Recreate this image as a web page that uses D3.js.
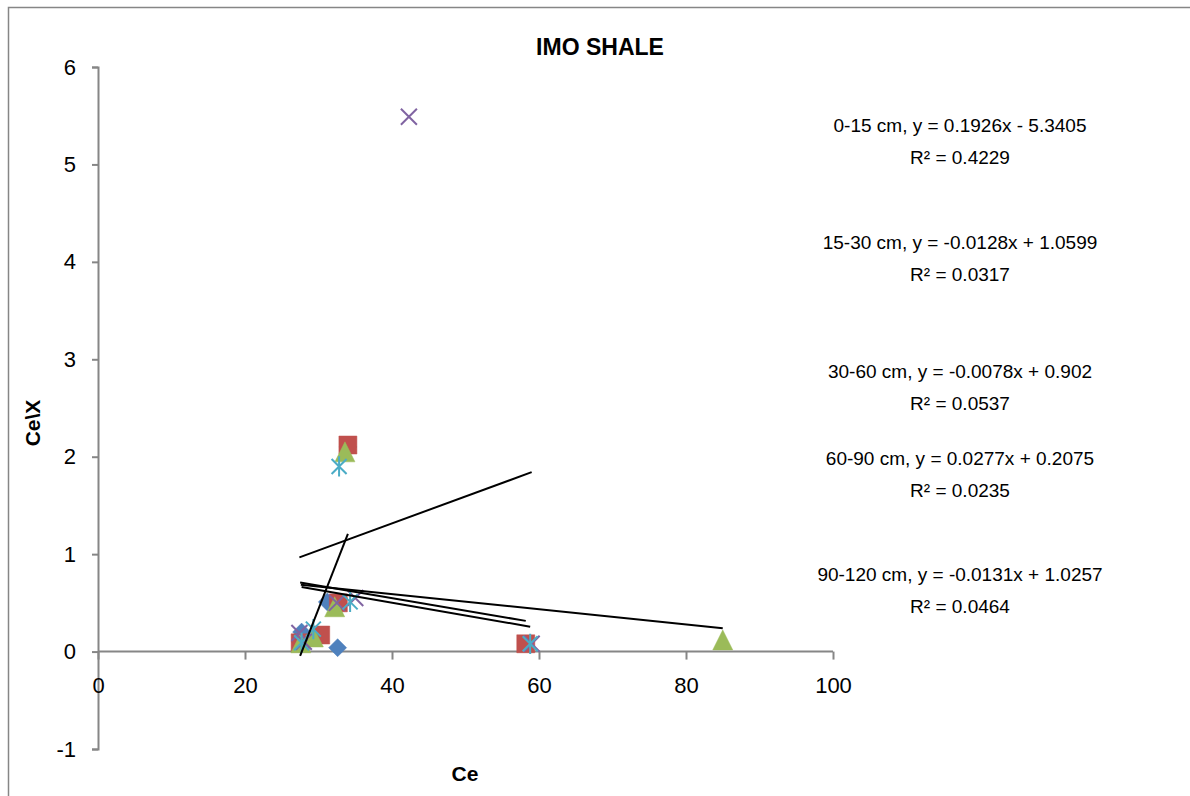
<!DOCTYPE html>
<html lang="en">
<head>
    <meta charset="UTF-8">
    <script src="https://cdnjs.cloudflare.com/ajax/libs/d3/7.9.0/d3.min.js"></script>
    <title>IMO SHALE</title>
    <style>
        body {
            margin: 0;
            background-color: white;
            font-family: "Liberation Sans", Arial, sans-serif;
        }
        svg {
            display: block;
        }
    </style>
</head>
<body>
    <div id="chart"></div>
    <script>
        const width = 1190;
        const height = 796;

        // series (depths) and their points
        const seriesNames = ["0-15 cm", "15-30 cm", "30-60 cm", "60-90 cm", "90-120 cm"];
        const ce_0_15 = [27.5, 27.7, 31.2, 32.6, 34.0];
        const cex_0_15 = [0.10, 0.20, 0.51, 0.04, 2.10];
        const ce_15_30 = [27.5, 30.3, 32.7, 34.0, 58.2];
        const cex_15_30 = [0.09, 0.17, 0.50, 2.12, 0.08];
        const ce_30_60 = [27.6, 29.3, 32.2, 33.6, 85.0];
        const cex_30_60 = [0.09, 0.15, 0.46, 2.05, 0.12];
        const ce_60_90 = [27.4, 28.0, 32.5, 35.0, 42.3, 59.0];
        const cex_60_90 = [0.19, 0.10, 0.50, 0.55, 5.49, 0.08];
        const ce_90_120 = [27.7, 29.3, 32.8, 34.3, 58.8];
        const cex_90_120 = [0.09, 0.23, 1.90, 0.51, 0.08];

        // linear trendlines shown on the chart
        const slopes = [0.1926, -0.0128, -0.0078, 0.0277, -0.0131];
        const intercepts = [-5.3405, 1.0599, 0.902, 0.2075, 1.0257];
        const r2 = ["0.4229", "0.0317", "0.0537", "0.0235", "0.0464"];

        const xTicks = [0, 20, 40, 60, 80, 100];
        const yTicks = [-1, 0, 1, 2, 3, 4, 5, 6];

        const colors = ["#4F81BD", "#C0504D", "#9BBB59", "#8064A2", "#4BACC6"];
        const shapes = ["diamond", "square", "triangle", "x", "star"];
        const labelY = [132, 249, 378, 465, 581]; // label layout, px

        const ceAll = [ce_0_15, ce_15_30, ce_30_60, ce_60_90, ce_90_120];
        const cexAll = [cex_0_15, cex_15_30, cex_30_60, cex_60_90, cex_90_120];
        const series = seriesNames.map((name, i) => ({
            name, i,
            points: ceAll[i].map((x, j) => ({ x, y: cexAll[i][j] }))
        }));

        const svg = d3.select("#chart").append("svg")
            .attr("width", width)
            .attr("height", height);

        // chart border (runs off the right and bottom edge)
        svg.append("path")
            .attr("d", `M8.5,${height + 5}V7.5H${width + 5}`)
            .attr("fill", "none")
            .attr("stroke", "#868686")
            .attr("stroke-width", 1.5);

        const x = d3.scaleLinear().domain([0, 100]).range([98, 833]);
        const y = d3.scaleLinear().domain([-1, 6]).range([749, 67]);

        // y axis
        const yAxis = svg.append("g")
            .attr("transform", `translate(${x(0)},0)`)
            .call(d3.axisLeft(y).tickValues(yTicks).tickSize(6).tickPadding(16)
                .tickFormat(d => d < 0 ? "-" + Math.abs(d) : d));
        // x axis crossing at y = 0
        const xAxis = svg.append("g")
            .attr("transform", `translate(0,${y(0)})`)
            .call(d3.axisBottom(x).tickValues(xTicks).tickSize(8).tickPadding(18).tickFormat(d3.format("d")));

        [xAxis, yAxis].forEach(g => {
            g.select(".domain").attr("stroke", "#868686").attr("stroke-width", 2);
            g.selectAll(".tick line").attr("stroke", "#868686").attr("stroke-width", 2);
            g.selectAll(".tick text")
                .attr("fill", "#000")
                .style("font-family", "'Liberation Sans', Arial, sans-serif")
                .style("font-size", "22px");
        });
        xAxis.select(".domain").attr("d", `M${x(0)},0H${x(100)}`);

        // markers
        const sym = {
            diamond: s => `M0,${-s}L${s},0L0,${s}L${-s},0Z`,
            square: s => `M${-s},${-s}H${s}V${s}H${-s}Z`,
            triangle: s => `M0,${-s}L${s},${s}H${-s}Z`,
            x: s => `M${-s},${-s}L${s},${s}M${s},${-s}L${-s},${s}`,
            star: s => `M${-s},${-s}L${s},${s}M${s},${-s}L${-s},${s}M0,${-s * 1.35}V${s * 1.35}`
        };
        const sizes = { diamond: 9, square: 9, triangle: 10, x: 8, star: 7.5 };

        series.forEach(sr => {
            const shape = shapes[sr.i];
            const isLine = shape === "x" || shape === "star";
            svg.append("g").selectAll("path")
                .data(sr.points)
                .join("path")
                .attr("transform", d => `translate(${x(d.x)},${y(d.y)})`)
                .attr("d", sym[shape](sizes[shape]))
                .attr("fill", isLine ? "none" : colors[sr.i])
                .attr("stroke", colors[sr.i])
                .attr("stroke-width", isLine ? 2 : 0.5);
        });

        // trendlines over the series x range
        series.forEach(sr => {
            const [x0, x1] = d3.extent(sr.points, d => d.x);
            const f = v => slopes[sr.i] * v + intercepts[sr.i];
            svg.append("line")
                .attr("x1", x(x0)).attr("y1", y(f(x0)))
                .attr("x2", x(x1)).attr("y2", y(f(x1)))
                .attr("stroke", "#000")
                .attr("stroke-width", 2);
        });

        // trendline equations
        const fmt = v => (v < 0 ? "- " : "+ ") + Math.abs(v);
        series.forEach(sr => {
            const t = svg.append("text")
                .attr("x", 960)
                .attr("y", labelY[sr.i])
                .attr("text-anchor", "middle")
                .style("font-size", "19px")
                .attr("fill", "#000");
            t.append("tspan").attr("x", 960)
                .text(`${sr.name}, y = ${slopes[sr.i]}x ${fmt(intercepts[sr.i])}`);
            t.append("tspan").attr("x", 960).attr("dy", 32)
                .text(`R² = ${r2[sr.i]}`);
        });

        // titles
        svg.append("text")
            .attr("x", 600).attr("y", 55)
            .attr("text-anchor", "middle")
            .style("font-size", "23px").style("font-weight", "bold")
            .text("IMO SHALE");
        svg.append("text")
            .attr("x", 465).attr("y", 781)
            .attr("text-anchor", "middle")
            .style("font-size", "21px").style("font-weight", "bold")
            .text("Ce");
        svg.append("text")
            .attr("transform", "translate(40,423) rotate(-90)")
            .attr("text-anchor", "middle")
            .style("font-size", "21px").style("font-weight", "bold")
            .text("Ce\\X");
    </script>
</body>
</html>
